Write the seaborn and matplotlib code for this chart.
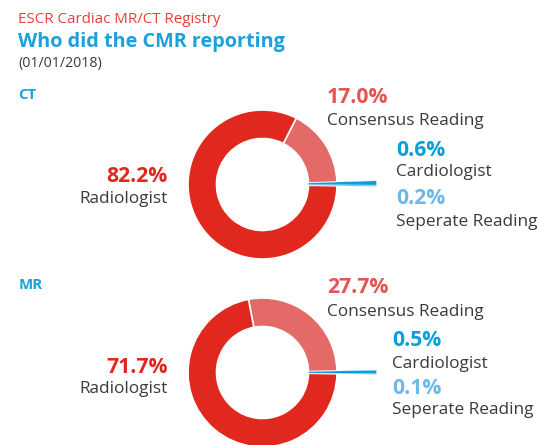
import matplotlib
matplotlib.use("Agg")
import matplotlib.pyplot as plt
import seaborn as sns

# Reporting shares (%) per modality
readers = ["Seperate Reading", "Cardiologist", "Consensus Reading", "Radiologist"]
ct_share = [0.2, 0.6, 17.0, 82.2]
mr_share = [0.1, 0.5, 27.7, 71.7]

slice_colors = ["#6DB8E8", "#0A9FDB", "#E36A66", "#E0281E"]
label_colors = ["#6DB8E8", "#0A9FDB", "#E35550", "#E0281E"]
TEXT_GRAY = "#3A3A3A"
BLUE = "#1BA1DC"

sns.set_theme(style="white")
plt.rcParams["font.family"] = ["Open Sans", "DejaVu Sans"]

W, H = 538, 445
fig = plt.figure(figsize=(W / 100, H / 100), dpi=100)
ax = fig.add_axes([0, 0, 1, 1])


def Y(py):
    return H - py


def donut(ax, shares, cx, cy, start):
    center = (cx, Y(cy))
    # main ring: consensus + radiologist
    ring, _ = ax.pie(shares, colors=slice_colors, startangle=start,
                     counterclock=True, center=center, radius=74.5,
                     wedgeprops=dict(width=28.5, edgecolor="white", linewidth=1.2))
    for w in ring[:2]:
        w.set_visible(False)
    # small shares drawn as long spikes reaching outside the ring
    spikes, _ = ax.pie(shares, colors=slice_colors, startangle=start,
                       counterclock=True, center=center, radius=114,
                       wedgeprops=dict(width=68, edgecolor="white", linewidth=0.2))
    for w in spikes[2:]:
        w.set_visible(False)


def entry(ax, x, y_pct, y_name, pct, name, color, ha="left"):
    ax.text(x, Y(y_pct), f"{pct:.1f}%", color=color, fontsize=15.2, fontweight="bold",
            ha=ha, va="baseline")
    ax.text(x, Y(y_name), name, color=TEXT_GRAY, fontsize=12.4, ha=ha, va="baseline")


# Header
ax.text(18, Y(23.3), "ESCR Cardiac MR/CT Registry", color="#E4413B", fontsize=10.9,
        ha="left", va="baseline")
ax.text(18, Y(46.7), "Who did the CMR reporting", color=BLUE, fontsize=14.3,
        fontweight="bold", ha="left", va="baseline")
ax.text(18, Y(66.7), "(01/01/2018)", color=TEXT_GRAY, fontsize=10.2, ha="left", va="baseline")

# CT
ax.text(18.5, Y(99), "CT", color=BLUE, fontsize=10.8, fontweight="bold", ha="left", va="baseline")
donut(ax, ct_share, 262.5, 184.5, -1.0)
entry(ax, 327, 102.7, 125, ct_share[2], readers[2], label_colors[2])
entry(ax, 396, 156, 176, ct_share[1], readers[1], label_colors[1])
entry(ax, 396, 204, 225.7, ct_share[0], readers[0], label_colors[0])
entry(ax, 167.5, 181.7, 202.7, ct_share[3], readers[3], label_colors[3], ha="right")

# MR
ax.text(18.5, Y(289), "MR", color=BLUE, fontsize=10.8, fontweight="bold", ha="left", va="baseline")
donut(ax, mr_share, 262.5, 372.5, -1.0)
entry(ax, 327, 293.3, 315.7, mr_share[2], readers[2], label_colors[2])
entry(ax, 392, 346, 368.3, mr_share[1], readers[1], label_colors[1])
entry(ax, 392, 394, 414.3, mr_share[0], readers[0], label_colors[0])
entry(ax, 167.5, 373.3, 393.3, mr_share[3], readers[3], label_colors[3], ha="right")

ax.set_xlim(0, W)
ax.set_ylim(0, H)
ax.set_aspect("equal", adjustable="box")
ax.axis("off")

fig.savefig("out.png", dpi=100, facecolor="white")
